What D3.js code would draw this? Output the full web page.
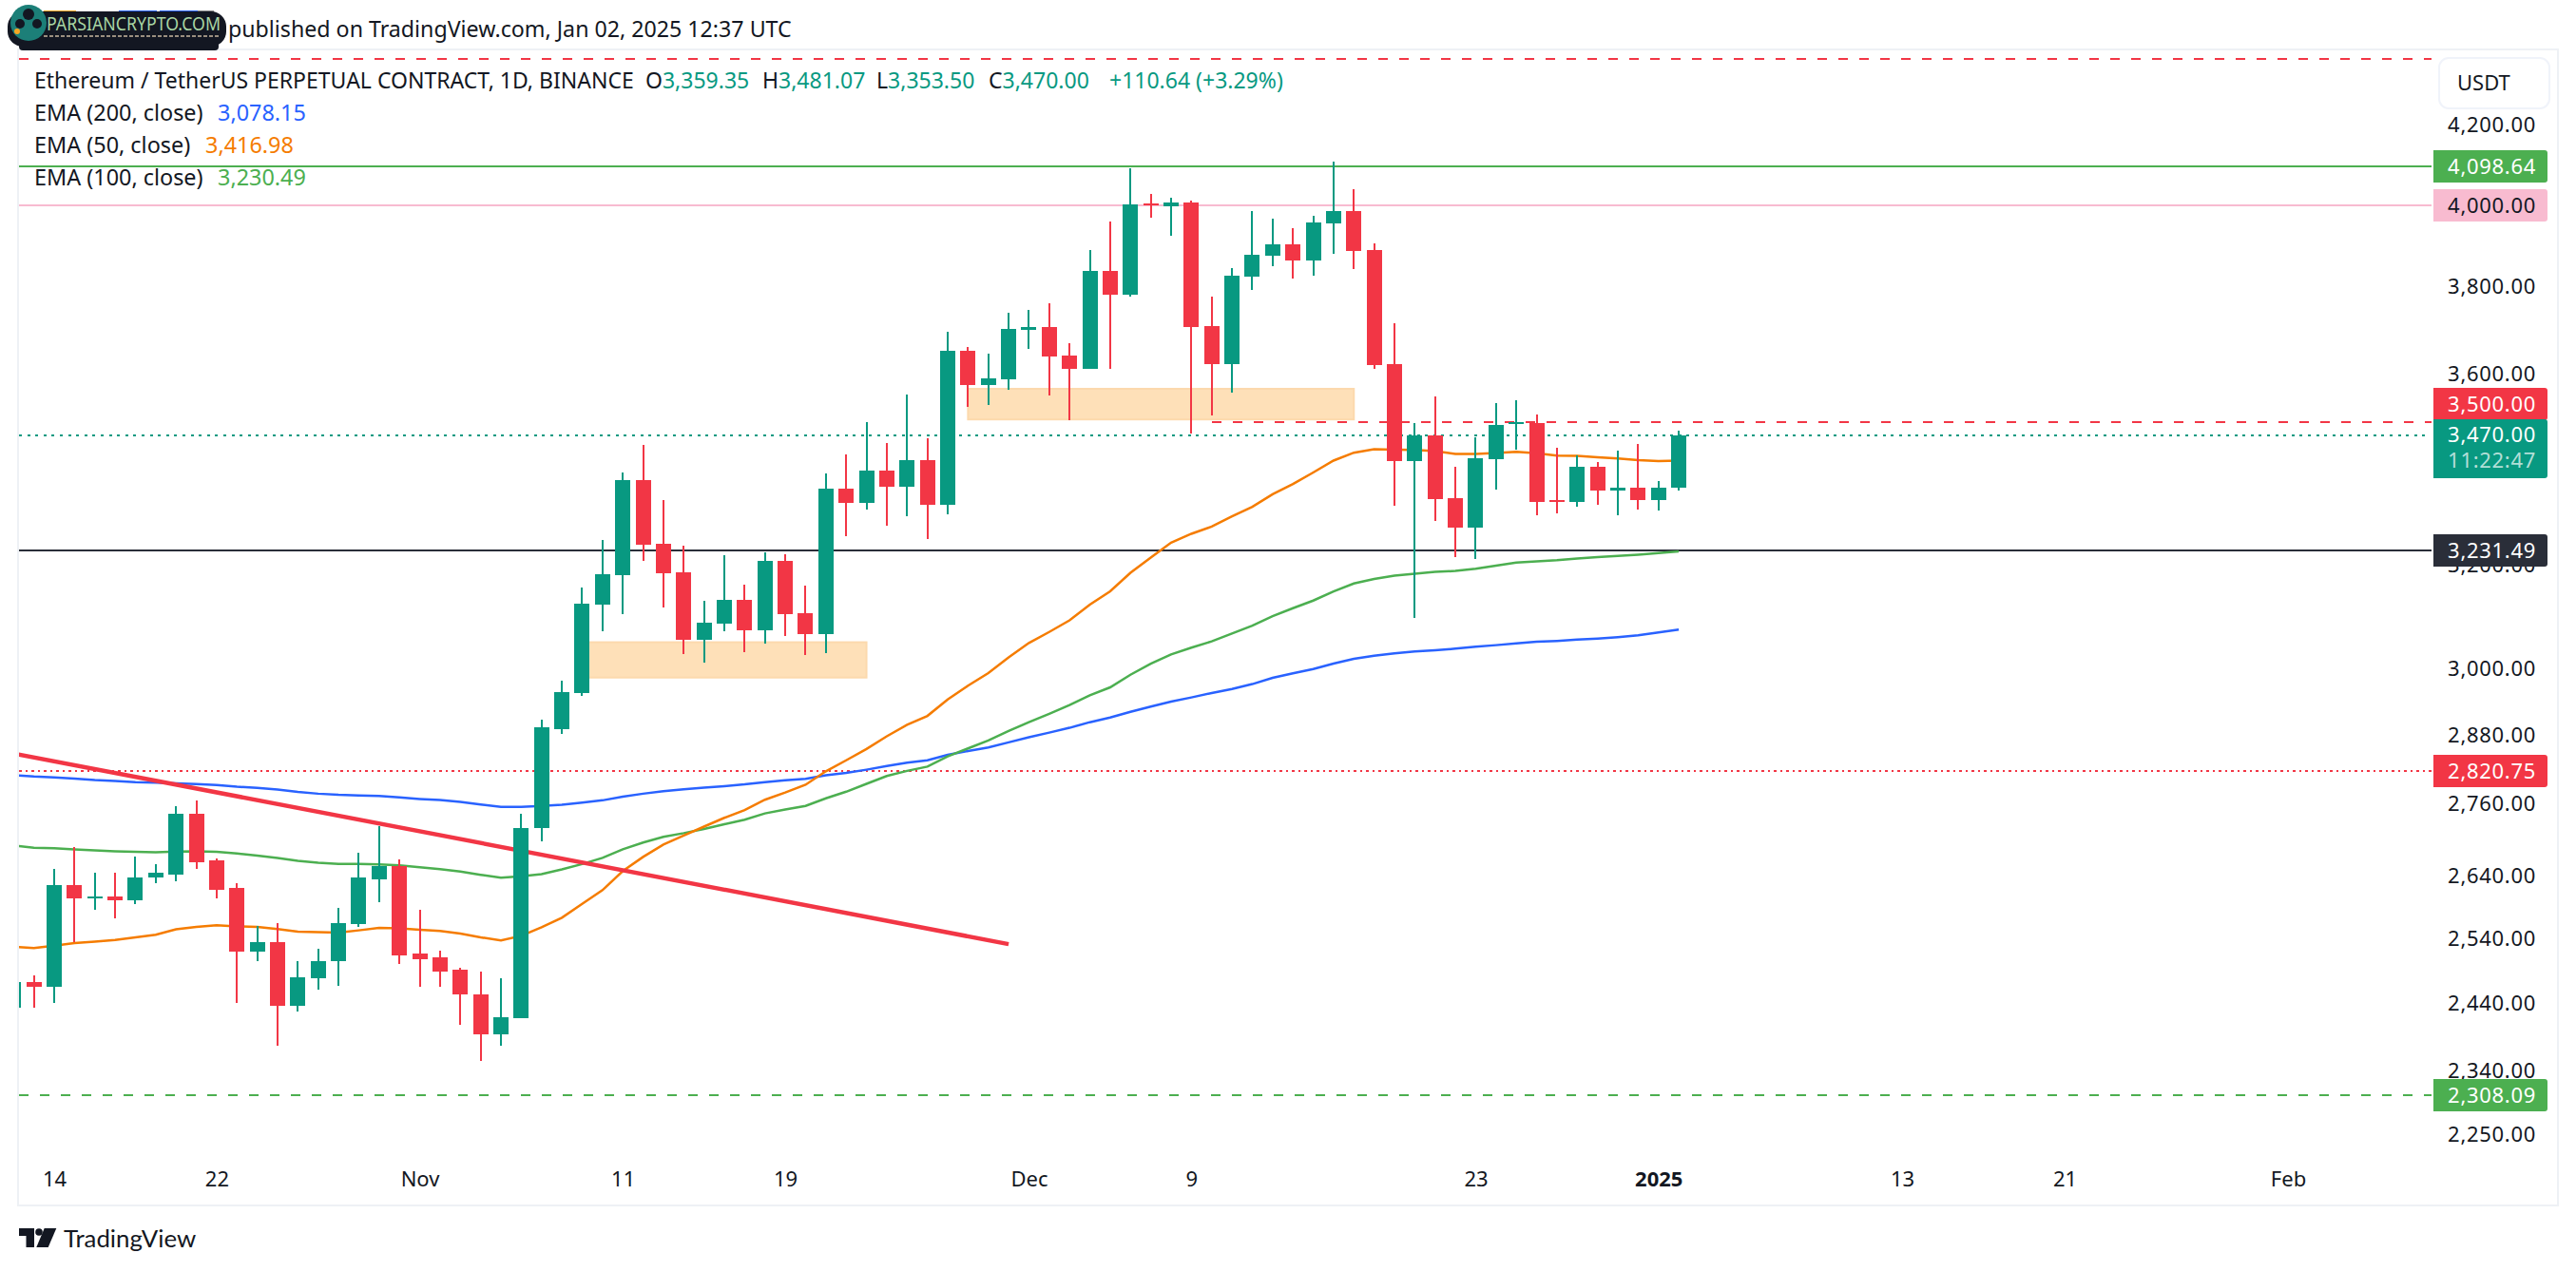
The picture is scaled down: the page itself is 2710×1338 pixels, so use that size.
<!DOCTYPE html>
<html>
<head>
<meta charset="utf-8">
<title>ETHUSDT.P 1D</title>
<script src="https://cdn.jsdelivr.net/npm/d3@7"></script>
<style>
  html, body { margin: 0; padding: 0; background: #fff; }
  svg { display: block; }
  text { font-family: "Noto Sans", sans-serif; fill: #131722; }
</style>
</head>
<body>
<div id="chart"></div>
<script>
// one candle a day, 12 Oct 2024 -> 2 Jan 2025
const days = d3.utcDay.range(new Date(Date.UTC(2024, 9, 12)), new Date(Date.UTC(2025, 0, 3)));

const opens = [2437,2476,2468,2629,2606,2610,2604,2640,2646,2747,2668,2623,2523,2537,2439,2481,2507,2565,2638,2660,2519,2513,2494,2457,2396,2420,2722,2895,2960,3126,3184,3376,3246,3189,3059,3090,3135,3077,3212,3110,3070,3358,3329,3396,3362,3418,3325,3657,3580,3593,3704,3711,3646,3616,3842,3786,4005,3998,4008,3713,3627,3828,3878,3905,3867,3956,3987,3892,3627,3416,3471,3339,3278,3420,3495,3497,3335,3331,3404,3354,3360,3335,3359.35];
const highs = [2480,2485,2654,2690,2648,2649,2675,2663,2760,2770,2672,2631,2562,2567,2507,2527,2591,2682,2725,2671,2588,2524,2497,2492,2481,2746,2912,2983,3160,3254,3392,3450,3335,3242,3134,3223,3165,3229,3225,3163,3390,3430,3499,3454,3560,3465,3700,3666,3651,3744,3751,3766,3674,3892,3961,4093,4029,4019,4012,3781,3849,3987,3968,3945,3975,4110,4041,3908,3720,3497,3555,3403,3467,3541,3547,3516,3444,3428,3414,3438,3452,3374,3481.07];
const lows = [2430,2436,2443,2537,2589,2574,2597,2631,2635,2655,2606,2443,2507,2380,2430,2463,2470,2561,2600,2503,2468,2468,2410,2357,2380,2420,2701,2886,2955,3075,3108,3212,3121,3032,3016,3074,3036,3052,3066,3030,3034,3261,3315,3282,3301,3256,3305,3532,3537,3570,3661,3557,3503,3616,3616,3781,3970,3926,3475,3514,3564,3797,3853,3824,3830,3883,3846,3616,3323,3100,3292,3220,3216,3356,3440,3304,3308,3321,3325,3304,3315,3313,3353.5];
const closes = [2476,2468,2629,2606,2610,2604,2641,2648,2747,2666,2621,2523,2537,2439,2482,2508,2567,2640,2660,2517,2511,2492,2456,2396,2422,2723,2897,2962,3128,3185,3376,3244,3187,3059,3091,3135,3077,3212,3108,3070,3358,3329,3396,3362,3418,3325,3657,3580,3595,3706,3711,3644,3616,3842,3786,4003,4001,4008,3711,3627,3830,3880,3905,3867,3959,3987,3890,3625,3416,3471,3337,3278,3422,3493,3499,3331,3331,3404,3354,3360,3335,3360,3470];

const ema200 = [2813,2810.6,2809,2807,2804.6,2803,2801,2800,2799,2797.5,2796,2793,2791,2788,2784,2781,2779,2778,2777,2774.5,2772,2770,2767,2762.5,2758.6,2758.6,2760,2762,2765.7,2769.6,2776,2781,2785.4,2788.7,2791.6,2794,2797,2800.8,2804,2806.7,2812.8,2817,2822.6,2829,2835,2839,2848.7,2855.4,2861.6,2870.7,2879.7,2888,2896.6,2906.7,2915,2925.4,2935,2944,2951.5,2959.7,2967,2976,2987.6,2996,3003.7,3014,3022.9,3028.8,3033,3036.5,3039,3041.8,3045.4,3048.5,3052,3054.8,3056.5,3059,3061,3063.7,3067,3072.6,3078.15];
const ema100 = [2693.4,2689.7,2688.6,2687,2685.4,2683.8,2682.8,2682.2,2683.3,2683.8,2682.8,2680,2676.6,2672.5,2667.8,2664.7,2662.7,2662.7,2662,2660.5,2657.4,2654.3,2650.3,2645,2640.4,2642.5,2646,2653.9,2662.7,2672.9,2687,2698.2,2707.8,2714,2721,2729,2736.6,2747.3,2754,2760,2773,2784.4,2798,2811.6,2820.5,2828,2846,2860,2874,2891,2906.7,2921.9,2937.6,2955.5,2970,2993.3,3013.7,3031,3043.7,3055.6,3070.5,3085.5,3103.5,3118.9,3133.7,3151.6,3167,3175.7,3182.4,3186,3189.8,3191.6,3196,3201.9,3208,3210.7,3213,3216.4,3219,3221.5,3224,3227,3230.49];
const ema50 = [2529.6,2528,2531.7,2535.7,2538,2540.7,2544.7,2548.7,2557.3,2561,2563.7,2562,2561,2557.7,2553.7,2552.8,2552,2555.7,2559.7,2558.8,2556.7,2554.7,2550.7,2544.7,2539.7,2547,2560.7,2575.7,2598,2620,2651,2674.4,2695,2710,2725,2739.8,2753,2770.6,2783,2796.4,2819.8,2839,2858.9,2881.4,2902,2918,2948,2973,2996.3,3025.5,3052.6,3073.5,3095.6,3126,3151.6,3188,3218,3248,3265.8,3280.4,3301,3320.6,3346.7,3367.7,3392,3417,3433.7,3441,3440.3,3439.7,3436.9,3431,3431,3432.9,3435.7,3432.3,3427.6,3426.9,3424.2,3421.6,3418,3416,3416.98];

const priceTicks = [4200, 3800, 3600, 3200, 3000, 2880, 2760, 2640, 2540, 2440, 2340, 2250];
const timeTicks = [[2024,9,14],[2024,9,22],[2024,10,1],[2024,10,11],[2024,10,19],[2024,11,1],[2024,11,9],[2024,11,23],[2025,0,1],[2025,0,13],[2025,0,21],[2025,1,1]].map((d) => new Date(Date.UTC(d[0], d[1], d[2])));
const timeLabels = ["14", "22", "Nov", "11", "19", "Dec", "9", "23", "2025", "13", "21", "Feb"];

const zoneDates = [[new Date(Date.UTC(2024, 10, 9)), new Date(Date.UTC(2024, 10, 23))], [new Date(Date.UTC(2024, 10, 28)), new Date(Date.UTC(2024, 11, 17))]];
const zoneHigh = [3054, 3572];
const zoneLow = [2988, 3505];

const trendDates = [new Date(Date.UTC(2024, 9, 12)), new Date(Date.UTC(2024, 10, 30))];
const trendPrices = [2851, 2534];

const up = "#089981", down = "#f23645", green = "#4caf50", dark = "#131722";
const frameColor = "#eef1f5";

const width = 2710, height = 1338;
const plotLeft = 20, frameRight = 2690, plotTop = 53, plotBottom = 1267, plotRight = 2558;

const x = d3.scaleUtc().domain([new Date(Date.UTC(2024, 9, 14)), new Date(Date.UTC(2025, 1, 1))]).range([57, 2407]);
const y = d3.scaleLog().domain([4098.64, 2308.09]).range([175, 1152]);

const svg = d3.select("#chart").append("svg").attr("width", width).attr("height", height);

svg.append("defs").append("clipPath").attr("id", "plot")
  .append("rect").attr("x", plotLeft).attr("y", plotTop).attr("width", plotRight + 2 - plotLeft).attr("height", plotBottom - plotTop);

// frame
svg.append("rect").attr("x", plotLeft - 1).attr("y", plotTop - 1).attr("width", frameRight - plotLeft + 2).attr("height", plotBottom - plotTop + 2)
  .attr("fill", "none").attr("stroke", frameColor).attr("stroke-width", 2);

const plot = svg.append("g").attr("clip-path", "url(#plot)");

// horizontal levels
const hlines = [
  { price: 4380, color: down, dash: "10,12", from: plotLeft },
  { price: 4098.64, color: green, dash: null, from: plotLeft },
  { price: 4000, color: "#f8bbd0", dash: null, from: plotLeft },
  { price: 3500, color: down, dash: "10,12", from: x(days[59]) },
  { price: 3470, color: up, dash: "3,5.6", from: plotLeft, to: 2553 },
  { price: 3231.49, color: "#2a2e39", dash: null, from: plotLeft },
  { price: 2820.75, color: down, dash: "2.5,4", from: plotLeft },
  { price: 2308.09, color: green, dash: "10,12", from: plotLeft },
];

plot.selectAll(".level").data(hlines).join("line")
  .attr("class", "level")
  .attr("x1", (d) => d.from)
  .attr("x2", (d) => d.to || plotRight)
  .attr("y1", (d) => Math.round(y(d.price)))
  .attr("y2", (d) => Math.round(y(d.price)))
  .attr("stroke", (d) => d.color)
  .attr("stroke-width", 2)
  .attr("stroke-dasharray", (d) => d.dash)
  .attr("shape-rendering", "crispEdges");

// supply / demand zones
plot.selectAll(".zone").data(zoneDates).join("rect")
  .attr("class", "zone")
  .attr("x", (d) => x(d[0]))
  .attr("width", (d) => x(d[1]) - x(d[0]))
  .attr("y", (d, i) => y(zoneHigh[i]))
  .attr("height", (d, i) => y(zoneLow[i]) - y(zoneHigh[i]))
  .attr("fill", "#fee0b8")
  .attr("stroke", "#fcd9ad")
  .attr("stroke-width", 2);

// EMAs
const emaLine = d3.line().x((d, i) => x(days[i])).y((d) => y(d));
[[ema200, "#2962ff"], [ema100, green], [ema50, "#f57c00"]].forEach((s) => {
  plot.append("path").attr("d", emaLine(s[0])).attr("fill", "none").attr("stroke", s[1]).attr("stroke-width", 2.5);
});

// trend line
plot.append("line")
  .attr("x1", x(trendDates[0])).attr("y1", y(trendPrices[0]))
  .attr("x2", x(trendDates[1])).attr("y2", y(trendPrices[1]))
  .attr("stroke", down).attr("stroke-width", 4.5);

// candles
const candle = plot.selectAll(".candle").data(days).join("g").attr("class", "candle").attr("shape-rendering", "crispEdges");
const colorOf = (i) => (closes[i] >= opens[i] ? up : down);

candle.append("rect")
  .attr("x", (d) => Math.round(x(d)) - 1)
  .attr("width", 2)
  .attr("y", (d, i) => Math.round(y(highs[i])))
  .attr("height", (d, i) => Math.round(y(lows[i])) - Math.round(y(highs[i])))
  .attr("fill", (d, i) => colorOf(i));

candle.append("rect")
  .attr("x", (d) => Math.round(x(d)) - 8)
  .attr("width", 16)
  .attr("y", (d, i) => Math.round(y(Math.max(opens[i], closes[i]))))
  .attr("height", (d, i) => Math.max(2, Math.round(y(Math.min(opens[i], closes[i]))) - Math.round(y(Math.max(opens[i], closes[i])))))
  .attr("fill", (d, i) => colorOf(i));

// time axis
const xAxis = d3.axisBottom(x).tickValues(timeTicks).tickSize(0).tickFormat((d, i) => timeLabels[i]);
const gx = svg.append("g").attr("transform", "translate(0,1240)").call(xAxis);
gx.select(".domain").remove();
gx.selectAll("text")
  .attr("y", 0).attr("dy", "0.36em")
  .attr("font-size", 22)
  .attr("font-weight", (d, i) => (timeLabels[i] === "2025" ? 700 : 400))
  .style("font-family", '"Noto Sans", sans-serif')
  .attr("fill", dark);

// price axis
const yAxis = d3.axisRight(y).tickValues(priceTicks).tickSize(0).tickFormat(d3.format(",.2f"));
const gy = svg.append("g").attr("transform", "translate(2668,-2)").call(yAxis);
gy.select(".domain").remove();
gy.selectAll("text")
  .attr("x", 0).attr("text-anchor", "end")
  .attr("font-size", 22).attr("letter-spacing", 0.7)
  .style("font-family", '"Noto Sans", sans-serif')
  .attr("fill", dark);

// USDT button
svg.append("rect").attr("x", 2566).attr("y", 61).attr("width", 116).attr("height", 53).attr("rx", 10)
  .attr("fill", "#fff").attr("stroke", "#f0f3fa").attr("stroke-width", 2);
svg.append("text").attr("x", 2585).attr("y", 87).attr("dy", "0.36em").attr("font-size", 22).text("USDT");

// price labels on the axis
const priceLabels = [
  { price: 4098.64, text: "4,098.64", bg: green, fg: "#fff", shift: 0 },
  { price: 4000, text: "4,000.00", bg: "#f8bbd0", fg: dark, shift: 0 },
  { price: 3500, text: "3,500.00", bg: down, fg: "#fff", shift: -19 },
  { price: 3231.49, text: "3,231.49", bg: "#2a2e39", fg: "#fff", shift: 0 },
  { price: 2820.75, text: "2,820.75", bg: down, fg: "#fff", shift: 0 },
  { price: 2308.09, text: "2,308.09", bg: green, fg: "#fff", shift: 0 },
];
const badge = svg.selectAll(".badge").data(priceLabels).join("g").attr("class", "badge")
  .attr("transform", (d) => "translate(2560," + (Math.round(y(d.price)) + d.shift) + ")");
badge.append("path")
  .attr("d", "M0,-17H117a3,3 0 0 1 3,3V14a3,3 0 0 1 -3,3H0Z")
  .attr("fill", (d) => d.bg);
badge.append("text")
  .attr("x", 108).attr("text-anchor", "end").attr("dy", "0.36em")
  .attr("font-size", 22).attr("letter-spacing", 0.7)
  .style("fill", (d) => d.fg)
  .text((d) => d.text);

// last price label with countdown
const lastG = svg.append("g").attr("transform", "translate(2560,441)");
lastG.append("path").attr("d", "M0,0H117a3,3 0 0 1 3,3V59a3,3 0 0 1 -3,3H0Z").attr("fill", up);
lastG.append("text").attr("x", 108).attr("y", 16).attr("text-anchor", "end").attr("dy", "0.36em")
  .attr("font-size", 22).attr("letter-spacing", 0.7).style("fill", "#fff").text("3,470.00");
lastG.append("text").attr("x", 108).attr("y", 43).attr("text-anchor", "end").attr("dy", "0.36em")
  .attr("font-size", 22).attr("letter-spacing", 0.7).style("fill", "#fff").style("fill-opacity", 0.7).text("11:22:47");

// legend
const legendSize = 23;
const titleRow = svg.append("g").attr("transform", "translate(0,85)");
titleRow.append("text").attr("x", 36).attr("dy", "0.36em").attr("font-size", legendSize)
  .text("Ethereum / TetherUS PERPETUAL CONTRACT, 1D, BINANCE");
const ohlc = [["O", "3,359.35", 679], ["H", "3,481.07", 802], ["L", "3,353.50", 922], ["C", "3,470.00", 1040]];
ohlc.forEach((o) => {
  const t = titleRow.append("text").attr("x", o[2]).attr("dy", "0.36em").attr("font-size", legendSize);
  t.append("tspan").text(o[0]);
  t.append("tspan").style("fill", up).text(o[1]);
});
titleRow.append("text").attr("x", 1167).attr("dy", "0.36em").attr("font-size", legendSize).style("fill", up).text("+110.64 (+3.29%)");

const emaRows = [
  ["EMA (200, close)", "3,078.15", "#2962ff", 119, 229],
  ["EMA (50, close)", "3,416.98", "#f57c00", 153, 216],
  ["EMA (100, close)", "3,230.49", green, 187, 229],
];
emaRows.forEach((r) => {
  svg.append("text").attr("x", 36).attr("y", r[3]).attr("dy", "0.36em").attr("font-size", 23.4).text(r[0]);
  svg.append("text").attr("x", r[4]).attr("y", r[3]).attr("dy", "0.36em").attr("font-size", 23.4).style("fill", r[2]).text(r[1]);
});

// header
svg.append("text").attr("x", 240).attr("y", 31).attr("dy", "0.36em").attr("font-size", 23.2)
  .text("published on TradingView.com, Jan 02, 2025 12:37 UTC");

// publisher badge
[[46, 80, "#f5a623"], [125, 165, "#2962ff"], [168, 208, "#2962ff"], [208, 225, "#888"]].forEach((f) => {
  svg.append("rect").attr("x", f[0]).attr("y", 11).attr("width", f[1] - f[0]).attr("height", 2).attr("fill", f[2]);
});
svg.append("rect").attr("x", 8).attr("y", 12).attr("width", 230).attr("height", 37).attr("rx", 16).attr("fill", dark);
svg.append("rect").attr("x", 20).attr("y", 44).attr("width", 210).attr("height", 9).attr("rx", 4).attr("fill", dark);
svg.append("circle").attr("cx", 30).attr("cy", 24).attr("r", 19).attr("fill", "#1c7f78");
svg.append("circle").attr("cx", 30).attr("cy", 15).attr("r", 6).attr("fill", dark);
svg.append("circle").attr("cx", 21).attr("cy", 25).attr("r", 5).attr("fill", dark);
svg.append("circle").attr("cx", 39).attr("cy", 25).attr("r", 5).attr("fill", dark);
svg.append("circle").attr("cx", 18).attr("cy", 33).attr("r", 3).attr("fill", "#f5a623");
svg.append("text").attr("x", 49).attr("y", 25).attr("dy", "0.36em").attr("font-size", 20).attr("textLength", 183)
  .attr("lengthAdjust", "spacingAndGlyphs").style("fill", "#a9d6a4").text("PARSIANCRYPTO.COM");
svg.append("line").attr("x1", 46).attr("x2", 230).attr("y1", 38).attr("y2", 38)
  .attr("stroke", "#c9b8a0").attr("stroke-width", 1.5).attr("stroke-dasharray", "4,2");

// footer logo
const tv = svg.append("g").attr("fill", dark);
tv.append("path").attr("d", "M20,1292H36V1312H27.5V1300H20Z");
tv.append("circle").attr("cx", 41).attr("cy", 1296).attr("r", 3.8);
tv.append("path").attr("d", "M46.7,1292H59.3L50.7,1312H38.3Z");
svg.append("text").attr("x", 67).attr("y", 1303).attr("dy", "0.36em").attr("font-size", 25.8)
  .style("font-family", "Lato, sans-serif").text("TradingView");
</script>
</body>
</html>
